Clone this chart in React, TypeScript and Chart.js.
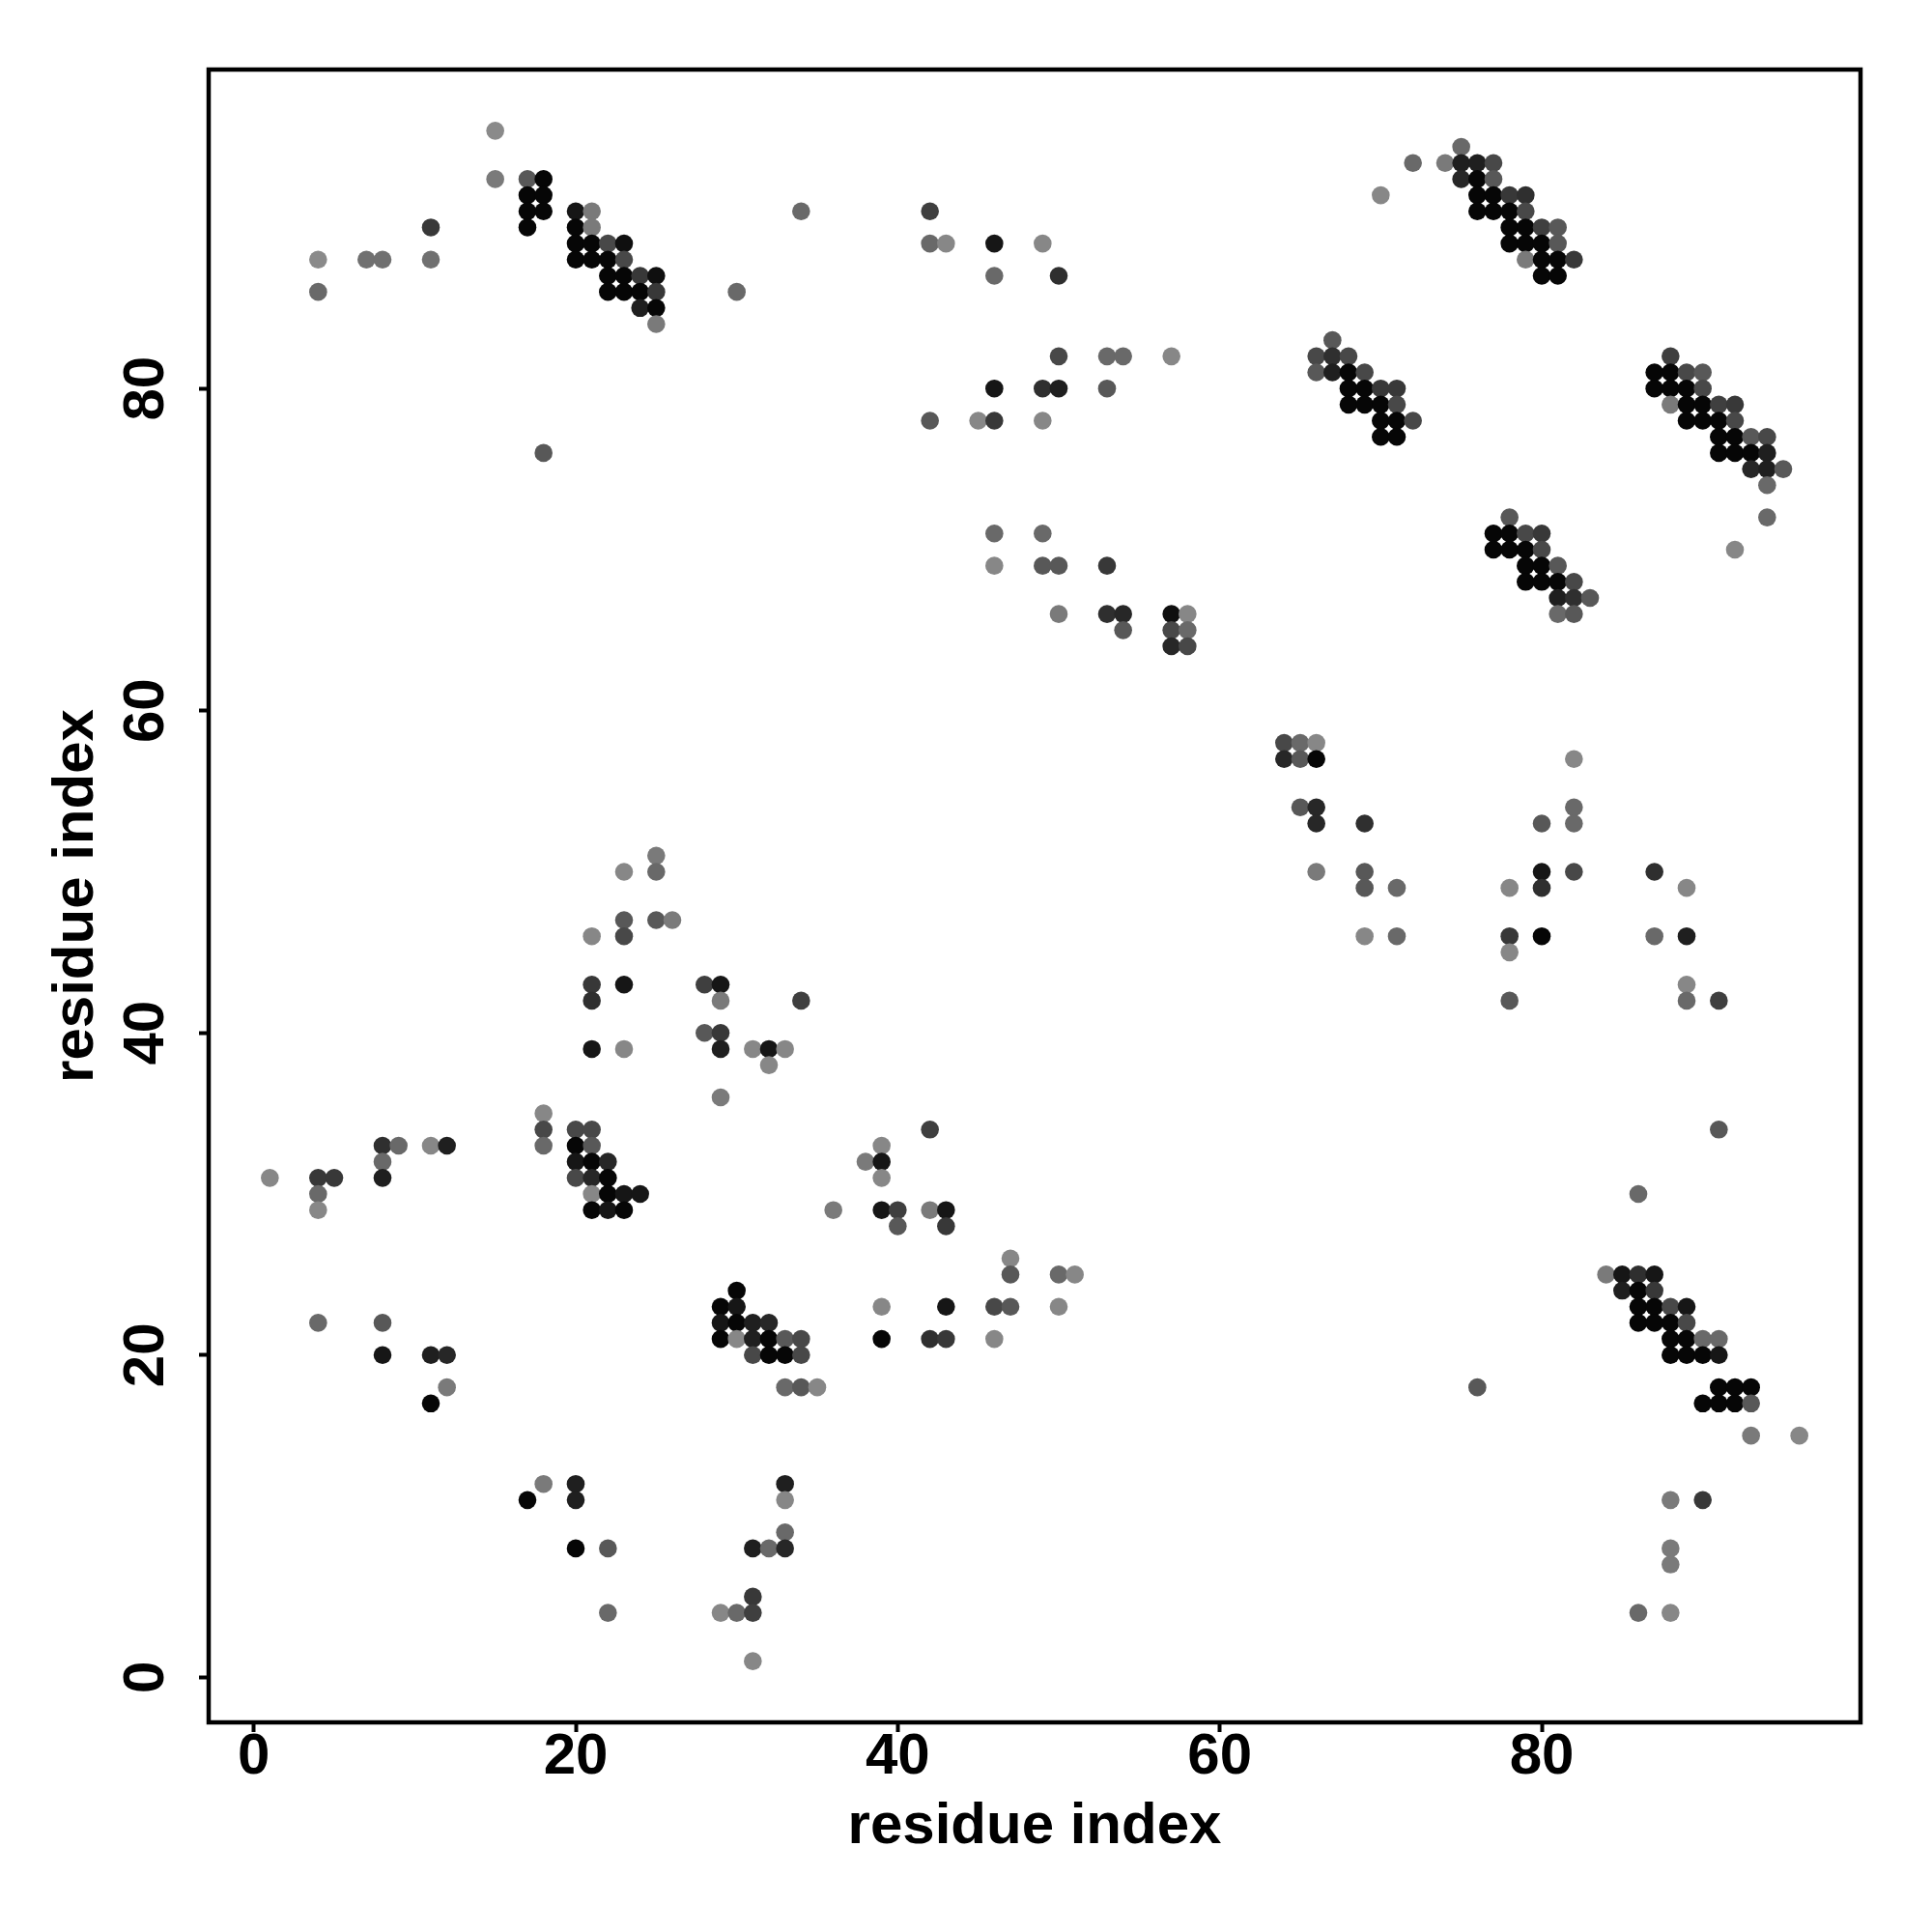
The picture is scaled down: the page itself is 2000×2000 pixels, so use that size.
import React, { useEffect, useRef } from "react";
import { Chart, registerables } from "chart.js";

Chart.register(...registerables);

// residue i (x) of each contact
const residueI = [
  15, 15, 17, 18,
  17, 18, 17, 18, 17,
  11, 4, 7, 8, 11, 4, 18,
  20, 21, 20, 21,
  20, 21, 22, 23,
  20, 21, 22, 23,
  22, 23, 24, 25,
  22, 23, 24, 25,
  24, 25, 25, 30, 34,
  42, 42, 43, 46, 49,
  46, 50,
  50, 53, 54, 57,
  46, 49, 50, 53,
  42, 45, 46, 49,
  46, 49,
  46, 49, 50, 53,
  50, 53, 54, 54,
  57, 58, 57, 58, 57, 58,
  75, 72, 74, 75, 76, 77,
  75, 76, 77, 70,
  76, 77, 78, 79,
  76, 77, 78, 79,
  78, 79, 80, 81,
  78, 79, 80, 81,
  79, 80, 81, 82, 80, 81,
  67, 66, 67, 68,
  66, 67, 68, 69,
  68, 69, 70, 71,
  68, 69, 70, 71,
  70, 71, 72, 70, 71,
  78, 77, 78, 79, 80,
  77, 78, 79, 80,
  79, 80, 81,
  79, 80, 81, 82,
  81, 82, 83, 81, 82,
  88, 87, 88, 89, 90,
  87, 88, 89, 90,
  88, 89, 90, 91, 92,
  89, 90, 91, 92,
  91, 92, 93, 94,
  91, 92, 93, 94,
  93, 94, 95, 94, 94, 92,
  64, 65, 66, 64, 65, 66, 82,
  65, 66, 82, 66, 69, 80, 82,
  66, 69, 80, 82, 87,
  69, 71, 78, 80, 89,
  69, 71, 78, 80, 87, 89,
  78, 89, 78, 89, 91, 91, 86,
  1, 4, 5, 4, 4,
  8, 9, 8, 8, 11, 12,
  18, 18, 18,
  4, 8, 8, 11, 12, 12, 11,
  25, 23, 25, 23, 25, 26, 21, 23,
  21, 23, 28, 29, 21, 29, 34,
  28, 29, 21, 23, 29, 31, 32, 33, 32, 29,
  20, 21, 20, 21,
  20, 21, 22, 20, 21, 22,
  21, 22, 23, 24, 21, 22, 23,
  30, 29, 30, 29, 30, 31, 32,
  29, 30, 31, 32, 33, 34,
  31, 32, 33, 34, 33, 34, 35,
  42, 39, 38, 39, 39,
  36, 39, 40, 42, 43, 40, 43,
  47, 47, 50, 51,
  39, 43, 46, 47, 50, 39, 42, 43, 46,
  18, 20, 33, 17, 20, 33, 33,
  20, 22, 31, 32, 33, 31,
  22, 29, 30, 31, 31,
  84, 85, 86, 87, 85, 86, 87,
  86, 87, 88, 89, 86, 87, 88, 89,
  88, 89, 90, 91, 88, 89, 90, 91,
  76, 91, 92, 93, 90, 91, 92, 93,
  93, 96, 88, 90, 88, 88, 86, 88,
];

// residue j (y) of each contact
const residueJ = [
  96, 93, 93, 93,
  92, 92, 91, 91, 90,
  90, 88, 88, 88, 88, 86, 76,
  91, 91, 90, 90,
  89, 89, 89, 89,
  88, 88, 88, 88,
  87, 87, 87, 87,
  86, 86, 86, 86,
  85, 85, 84, 86, 91,
  91, 89, 89, 89, 89,
  87, 87,
  82, 82, 82, 82,
  80, 80, 80, 80,
  78, 78, 78, 78,
  71, 71,
  69, 69, 69, 69,
  66, 66, 66, 65,
  66, 66, 65, 65, 64, 64,
  95, 94, 94, 94, 94, 94,
  93, 93, 93, 92,
  92, 92, 92, 92,
  91, 91, 91, 91,
  90, 90, 90, 90,
  89, 89, 89, 89,
  88, 88, 88, 88, 87, 87,
  83, 82, 82, 82,
  81, 81, 81, 81,
  80, 80, 80, 80,
  79, 79, 79, 79,
  78, 78, 78, 77, 77,
  72, 71, 71, 71, 71,
  70, 70, 70, 70,
  69, 69, 69,
  68, 68, 68, 68,
  67, 67, 67, 66, 66,
  82, 81, 81, 81, 81,
  80, 80, 80, 80,
  79, 79, 79, 79, 79,
  78, 78, 78, 78,
  77, 77, 77, 77,
  76, 76, 76, 76,
  75, 75, 75, 74, 72, 70,
  58, 58, 58, 57, 57, 57, 57,
  54, 54, 54, 53, 53, 53, 53,
  50, 50, 50, 50, 50,
  49, 49, 49, 49, 49,
  46, 46, 46, 46, 46, 46,
  45, 43, 42, 42, 42, 34, 30,
  31, 31, 31, 30, 29,
  33, 33, 32, 31, 33, 33,
  35, 34, 33,
  22, 22, 20, 20, 20, 18, 17,
  51, 50, 50, 47, 47, 47, 46, 46,
  43, 43, 43, 43, 42, 42, 42,
  40, 40, 39, 39, 39, 39, 39, 39, 38, 36,
  34, 34, 33, 33,
  32, 32, 32, 31, 31, 31,
  30, 30, 30, 30, 29, 29, 29,
  24, 23, 23, 22, 22, 22, 22,
  21, 21, 21, 21, 21, 21,
  20, 20, 20, 20, 18, 18, 18,
  34, 33, 32, 32, 31,
  29, 29, 29, 29, 29, 28, 28,
  26, 25, 25, 25,
  23, 23, 23, 23, 23, 21, 21, 21, 21,
  12, 12, 12, 11, 11, 11, 9,
  8, 8, 8, 8, 8, 5,
  4, 4, 4, 4, 1,
  25, 25, 25, 25, 24, 24, 24,
  23, 23, 23, 23, 22, 22, 22, 22,
  21, 21, 21, 21, 20, 20, 20, 20,
  18, 18, 18, 18, 17, 17, 17, 17,
  15, 15, 11, 11, 8, 7, 4, 4,
];

// contact strength (0 = weak / light grey, 1 = strong / black)
const contactProb = [
  0, 0.12, 0.38, 1,
  1, 1, 1, 1, 1,
  0.62, 0, 0.2, 0.2, 0.2, 0.25, 0.38,
  0.88, 0.12, 1, 0.12,
  1, 1, 0.5, 0.93,
  1, 1, 1, 0.5,
  1, 1, 0.62, 0.93,
  1, 1, 1, 0.62,
  0.81, 1, 0.12, 0.25, 0.25,
  0.57, 0.25, 0.02, 0.88, 0.02,
  0.25, 0.69,
  0.5, 0.25, 0.25, 0.02,
  0.88, 0.69, 0.81, 0.38,
  0.38, 0.02, 0.62, 0.02,
  0.25, 0.25,
  0.02, 0.38, 0.38, 0.62,
  0.12, 0.69, 0.75, 0.38,
  0.93, 0.02, 0.5, 0.25, 0.75, 0.5,
  0.25, 0.25, 0.12, 0.81, 0.81, 0.5,
  0.75, 1, 0.38, 0.02,
  1, 1, 0.62, 0.69,
  1, 1, 1, 0.5,
  1, 1, 0.57, 0.38,
  1, 1, 1, 0.38,
  0.12, 1, 1, 0.62, 1, 1,
  0.38, 0.5, 0.69, 0.5,
  0.38, 0.81, 1, 0.5,
  1, 1, 0.62, 0.62,
  1, 1, 1, 0.5,
  1, 1, 0.5, 1, 1,
  0.38, 1, 1, 0.5, 0.62,
  1, 1, 1, 0.5,
  1, 1, 0.38,
  1, 1, 1, 0.5,
  0.81, 0.69, 0.38, 0.25, 0.38,
  0.57, 1, 1, 0.5, 0.38,
  1, 1, 1, 0.5,
  0.12, 1, 1, 0.57, 0.62,
  1, 1, 1, 0.5,
  1, 1, 0.38, 0.5,
  1, 1, 1, 0.81,
  0.75, 0.81, 0.38, 0.25, 0.25, 0.02,
  0.5, 0.25, 0.02, 0.75, 0.38, 1, 0.02,
  0.38, 0.75, 0.25, 0.75, 0.69, 0.38, 0.25,
  0.12, 0.38, 0.88, 0.5, 0.69,
  0.38, 0.25, 0.02, 0.69, 0.02,
  0.02, 0.25, 0.62, 1, 0.25, 0.81,
  0.02, 0.02, 0.38, 0.25, 0.57, 0.38, 0.25,
  0.02, 0.62, 0.62, 0.25, 0.02,
  0.69, 0.25, 0.25, 0.81, 0.02, 0.81,
  0.02, 0.5, 0.25,
  0.25, 0.38, 0.88, 0.81, 0.75, 0.12, 1,
  0.12, 0.02, 0.25, 0.38, 0.38, 0.12, 0.02, 0.5,
  0.62, 0.88, 0.57, 0.88, 0.69, 0.12, 0.57,
  0.38, 0.62, 0.88, 0.02, 0.81, 0.02, 0.88, 0.02, 0.02, 0.12,
  0.5, 0.5, 1, 0.38,
  0.88, 1, 0.75, 0.5, 0.75, 1,
  0.02, 1, 0.88, 0.88, 1, 0.88, 1,
  1, 1, 0.88, 0.88, 1, 0.81, 0.75,
  1, 0.02, 0.81, 1, 0.38, 0.5,
  0.5, 1, 1, 0.5, 0.25, 0.38, 0.02,
  0.57, 0.02, 0.12, 0.88, 0.02,
  0.12, 0.88, 0.57, 0.12, 0.88, 0.38, 0.62,
  0.02, 0.38, 0.25, 0.02,
  0.02, 0.88, 0.5, 0.38, 0.02, 1, 0.69, 0.62, 0.02,
  0.12, 0.81, 0.81, 1, 0.81, 0.02, 0.25,
  1, 0.38, 0.81, 0.25, 0.75, 0.62,
  0.25, 0.02, 0.25, 0.57, 0.02,
  0.12, 0.88, 0.69, 0.88, 0.81, 1, 0.62,
  1, 1, 0.5, 0.88, 1, 1, 1, 0.5,
  1, 1, 0.25, 0.25, 1, 1, 1, 0.88,
  0.38, 1, 1, 1, 1, 1, 1, 0.38,
  0.12, 0.02, 0.12, 0.62, 0.12, 0.12, 0.25, 0.02,
];

const tickValues = [0, 20, 40, 60, 80];
const axisMin = -2.8;
const axisMax = 99.8;
const xTitle = "residue index";
const yTitle = "residue index";

const FONT = "'Liberation Sans', Arial, Helvetica, sans-serif";

const framePlugin = {
  id: "frameBox",
  afterDraw(chart: any) {
    const { ctx, chartArea: a } = chart;
    ctx.save();
    ctx.strokeStyle = "#000";
    ctx.lineWidth = 4.5;
    ctx.strokeRect(a.left, a.top, a.right - a.left, a.bottom - a.top);
    ctx.restore();
  },
};

const whiteBg = {
  id: "whiteBg",
  beforeDraw(chart: any) {
    const { ctx, width, height } = chart;
    ctx.save();
    ctx.fillStyle = "#fff";
    ctx.fillRect(0, 0, width, height);
    ctx.restore();
  },
};

export default function App() {
  const ref = useRef<HTMLCanvasElement | null>(null);

  useEffect(() => {
    if (!ref.current) return;
    const n = Math.min(residueI.length, residueJ.length, contactProb.length);
    const points = [];
    const colors = [];
    for (let k = 0; k < n; k++) {
      points.push({ x: residueI[k], y: residueJ[k] });
      const g = Math.round(6 + 132 * (1 - contactProb[k]));
      colors.push(`rgb(${g},${g},${g})`);
    }
    const tickFont = { family: FONT, size: 60, weight: "bold" as const, lineHeight: 1 };
    const titleFont = { family: FONT, size: 60, weight: "bold" as const, lineHeight: 1.2 };
    const gridOpts = {
      display: true,
      drawOnChartArea: false,
      drawTicks: true,
      tickLength: 10,
      tickWidth: 4,
      tickColor: "#000",
      color: "#000",
    };

    const chart = new Chart(ref.current, {
      type: "scatter",
      data: {
        datasets: [
          {
            data: points,
            pointRadius: 9.3,
            pointHoverRadius: 9.3,
            pointBackgroundColor: colors,
            pointBorderWidth: 0,
            showLine: false,
          },
        ],
      },
      options: {
        responsive: false,
        animation: false,
        devicePixelRatio: 1,
        events: [],
        layout: { padding: { top: 72, right: 74, left: 0, bottom: 0 } },
        plugins: { legend: { display: false }, tooltip: { enabled: false } },
        scales: {
          x: {
            type: "linear",
            position: "bottom",
            min: axisMin,
            max: axisMax,
            bounds: "data",
            afterBuildTicks: (s: any) => {
              s.ticks = tickValues.map((v) => ({ value: v }));
            },
            afterFit: (s: any) => {
              s.height = 217;
            },
            grid: gridOpts,
            border: { display: false },
            ticks: {
              padding: -4,
              color: "#000",
              font: tickFont,
              minRotation: 0,
              maxRotation: 0,
              autoSkip: false,
              callback: (v: any) => String(v),
            },
            title: {
              display: true,
              text: xTitle,
              color: "#000",
              font: titleFont,
              padding: { top: 0, bottom: 73 },
            },
          },
          y: {
            type: "linear",
            position: "left",
            min: axisMin,
            max: axisMax,
            bounds: "data",
            afterBuildTicks: (s: any) => {
              s.ticks = tickValues.map((v) => ({ value: v }));
            },
            afterFit: (s: any) => {
              s.width = 216;
            },
            grid: gridOpts,
            border: { display: false },
            ticks: {
              padding: 20,
              color: "#000",
              font: tickFont,
              minRotation: 90,
              maxRotation: 90,
              crossAlign: "center",
              autoSkip: false,
              callback: (v: any) => String(v),
            },
            title: {
              display: true,
              text: yTitle,
              color: "#000",
              font: titleFont,
              padding: { top: 43, bottom: 0 },
            },
          },
        },
      } as any,
      plugins: [whiteBg, framePlugin],
    });
    return () => chart.destroy();
  }, []);

  return (
    <div style={{ position: "absolute", left: 0, top: 0, width: 2000, height: 2000, background: "#fff" }}>
      <canvas ref={ref} width={2000} height={2000} style={{ display: "block", width: 2000, height: 2000 }} />
    </div>
  );
}
